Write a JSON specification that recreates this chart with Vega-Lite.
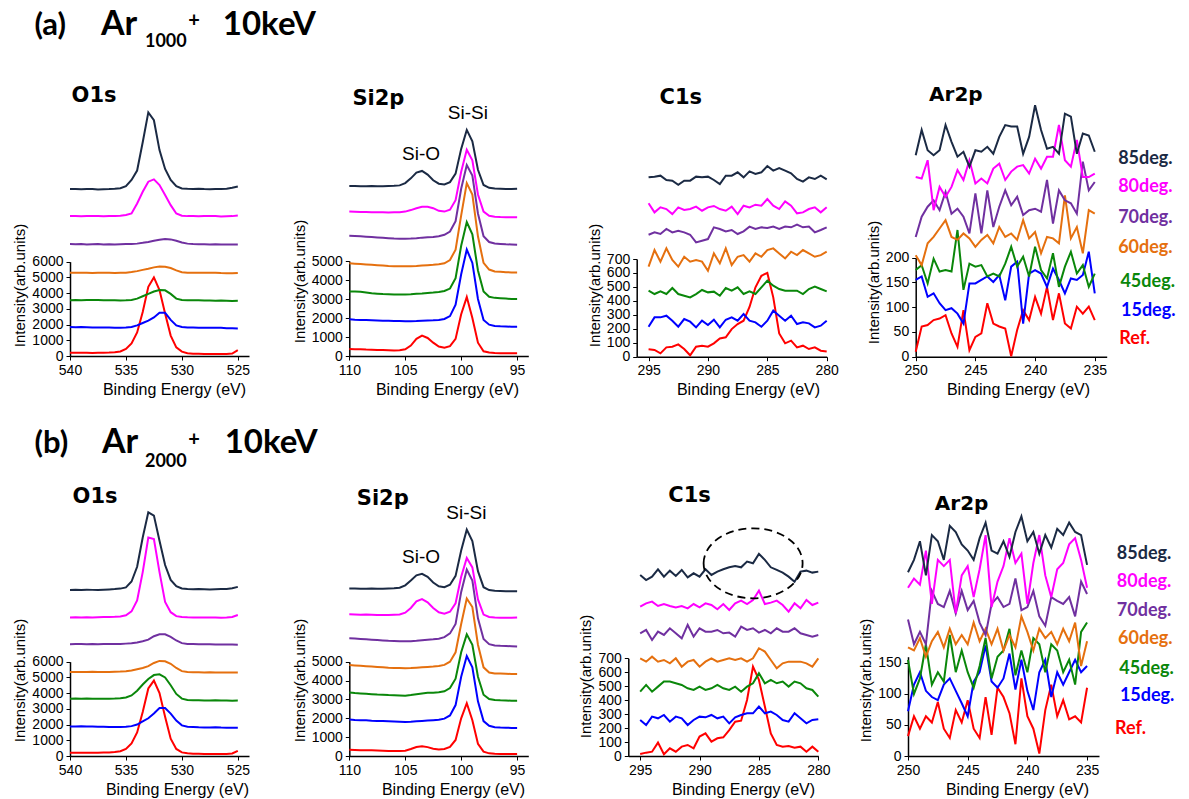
{
"$schema":"https://vega.github.io/schema/vega-lite/v6.json",
"width":1189,"height":799,"padding":0,"autosize":{"type":"none"},"background":"white",
"config":{"view":{"stroke":null},
"axis":{"grid":false,"format":"d","domainColor":"#000","tickColor":"#000","labelColor":"#000","titleColor":"#000","labelFont":"Liberation Sans","titleFont":"Liberation Sans","labelFontSize":14,"titleFontSize":16,"titleFontWeight":"normal","tickSize":4,"domainWidth":1.5,"labelPadding":3,"labelFlush":false,"labelOverlap":false},
"text":{"font":"Lato","fontWeight":"bold","align":"left","baseline":"alphabetic","color":"#000"},
"line":{"strokeWidth":2}},
"datasets":{"spec":[
{"p":"aO","x":540,"r":210,"b":1850,"g":3550,"o":5300,"u":7120,"m":8900,"n":10620},
{"p":"aO","x":539.5,"r":200,"b":1830,"g":3560,"o":5290,"u":7110,"m":8910,"n":10630},
{"p":"aO","x":539,"r":210,"b":1840,"g":3550,"o":5290,"u":7120,"m":8890,"n":10610},
{"p":"aO","x":538.5,"r":200,"b":1830,"g":3570,"o":5300,"u":7100,"m":8900,"n":10630},
{"p":"aO","x":538,"r":190,"b":1820,"g":3560,"o":5280,"u":7110,"m":8910,"n":10620},
{"p":"aO","x":537.5,"r":200,"b":1810,"g":3570,"o":5290,"u":7120,"m":8900,"n":10600},
{"p":"aO","x":537,"r":210,"b":1820,"g":3550,"o":5300,"u":7100,"m":8890,"n":10610},
{"p":"aO","x":536.5,"r":220,"b":1810,"g":3540,"o":5290,"u":7110,"m":8900,"n":10620},
{"p":"aO","x":536,"r":240,"b":1800,"g":3540,"o":5280,"u":7100,"m":8910,"n":10640},
{"p":"aO","x":535.5,"r":290,"b":1800,"g":3530,"o":5290,"u":7110,"m":8920,"n":10680},
{"p":"aO","x":535,"r":450,"b":1810,"g":3540,"o":5300,"u":7120,"m":8970,"n":10800},
{"p":"aO","x":534.5,"r":800,"b":1850,"g":3570,"o":5340,"u":7130,"m":9070,"n":11200},
{"p":"aO","x":534,"r":1500,"b":1950,"g":3650,"o":5400,"u":7150,"m":9700,"n":11800},
{"p":"aO","x":533.5,"r":2800,"b":2100,"g":3800,"o":5480,"u":7200,"m":10450,"n":13600},
{"p":"aO","x":533,"r":4400,"b":2250,"g":3950,"o":5550,"u":7260,"m":11090,"n":15500},
{"p":"aO","x":532.5,"r":5000,"b":2450,"g":4100,"o":5640,"u":7330,"m":11240,"n":15000},
{"p":"aO","x":532,"r":4200,"b":2750,"g":4200,"o":5700,"u":7400,"m":10880,"n":13100},
{"p":"aO","x":531.5,"r":2700,"b":2750,"g":4180,"o":5680,"u":7450,"m":10240,"n":11900},
{"p":"aO","x":531,"r":1300,"b":2300,"g":3950,"o":5600,"u":7420,"m":9600,"n":11200},
{"p":"aO","x":530.5,"r":550,"b":1950,"g":3650,"o":5450,"u":7330,"m":9070,"n":10800},
{"p":"aO","x":530,"r":280,"b":1850,"g":3560,"o":5330,"u":7220,"m":8930,"n":10660},
{"p":"aO","x":529.5,"r":180,"b":1820,"g":3540,"o":5300,"u":7150,"m":8900,"n":10640},
{"p":"aO","x":529,"r":150,"b":1820,"g":3540,"o":5290,"u":7120,"m":8900,"n":10630},
{"p":"aO","x":528.5,"r":140,"b":1800,"g":3550,"o":5300,"u":7110,"m":8890,"n":10640},
{"p":"aO","x":528,"r":130,"b":1790,"g":3530,"o":5290,"u":7110,"m":8900,"n":10620},
{"p":"aO","x":527.5,"r":130,"b":1800,"g":3530,"o":5290,"u":7100,"m":8910,"n":10610},
{"p":"aO","x":527,"r":120,"b":1790,"g":3520,"o":5300,"u":7110,"m":8900,"n":10620},
{"p":"aO","x":526.5,"r":130,"b":1800,"g":3530,"o":5280,"u":7100,"m":8880,"n":10620},
{"p":"aO","x":526,"r":120,"b":1770,"g":3520,"o":5270,"u":7100,"m":8890,"n":10640},
{"p":"aO","x":525.5,"r":160,"b":1760,"g":3500,"o":5260,"u":7090,"m":8900,"n":10700},
{"p":"aO","x":525,"r":380,"b":1750,"g":3520,"o":5280,"u":7090,"m":8940,"n":10780},
{"p":"bO","x":540,"r":200,"b":1880,"g":3650,"o":5340,"u":7110,"m":8820,"n":10560},
{"p":"bO","x":539.5,"r":210,"b":1870,"g":3660,"o":5350,"u":7120,"m":8830,"n":10570},
{"p":"bO","x":539,"r":200,"b":1900,"g":3650,"o":5340,"u":7120,"m":8820,"n":10560},
{"p":"bO","x":538.5,"r":210,"b":1880,"g":3660,"o":5350,"u":7110,"m":8830,"n":10580},
{"p":"bO","x":538,"r":200,"b":1870,"g":3650,"o":5360,"u":7120,"m":8820,"n":10570},
{"p":"bO","x":537.5,"r":210,"b":1860,"g":3640,"o":5350,"u":7110,"m":8830,"n":10560},
{"p":"bO","x":537,"r":220,"b":1860,"g":3650,"o":5340,"u":7120,"m":8840,"n":10580},
{"p":"bO","x":536.5,"r":230,"b":1850,"g":3650,"o":5350,"u":7130,"m":8850,"n":10600},
{"p":"bO","x":536,"r":250,"b":1850,"g":3660,"o":5360,"u":7120,"m":8860,"n":10620},
{"p":"bO","x":535.5,"r":300,"b":1850,"g":3680,"o":5370,"u":7130,"m":8880,"n":10650},
{"p":"bO","x":535,"r":450,"b":1860,"g":3720,"o":5400,"u":7150,"m":8950,"n":10730},
{"p":"bO","x":534.5,"r":800,"b":1900,"g":3850,"o":5440,"u":7170,"m":9200,"n":11100},
{"p":"bO","x":534,"r":1500,"b":2000,"g":4150,"o":5520,"u":7220,"m":9900,"n":12040},
{"p":"bO","x":533.5,"r":2800,"b":2200,"g":4550,"o":5600,"u":7300,"m":11700,"n":13900},
{"p":"bO","x":533,"r":4300,"b":2400,"g":4900,"o":5720,"u":7400,"m":13900,"n":15500},
{"p":"bO","x":532.5,"r":4800,"b":2700,"g":5150,"o":5920,"u":7620,"m":13800,"n":15300},
{"p":"bO","x":532,"r":4000,"b":3050,"g":5200,"o":6050,"u":7750,"m":11700,"n":13700},
{"p":"bO","x":531.5,"r":2500,"b":3050,"g":5000,"o":6030,"u":7740,"m":9800,"n":12150},
{"p":"bO","x":531,"r":1100,"b":2700,"g":4500,"o":5870,"u":7580,"m":9150,"n":11200},
{"p":"bO","x":530.5,"r":450,"b":2250,"g":3950,"o":5600,"u":7350,"m":8900,"n":10810},
{"p":"bO","x":530,"r":230,"b":1950,"g":3650,"o":5400,"u":7180,"m":8850,"n":10660},
{"p":"bO","x":529.5,"r":170,"b":1860,"g":3560,"o":5340,"u":7130,"m":8830,"n":10620},
{"p":"bO","x":529,"r":150,"b":1850,"g":3540,"o":5330,"u":7120,"m":8820,"n":10610},
{"p":"bO","x":528.5,"r":140,"b":1830,"g":3540,"o":5330,"u":7110,"m":8820,"n":10620},
{"p":"bO","x":528,"r":130,"b":1820,"g":3530,"o":5320,"u":7110,"m":8810,"n":10610},
{"p":"bO","x":527.5,"r":130,"b":1820,"g":3530,"o":5330,"u":7110,"m":8820,"n":10600},
{"p":"bO","x":527,"r":120,"b":1830,"g":3540,"o":5320,"u":7100,"m":8810,"n":10610},
{"p":"bO","x":526.5,"r":130,"b":1810,"g":3530,"o":5320,"u":7100,"m":8800,"n":10620},
{"p":"bO","x":526,"r":120,"b":1800,"g":3530,"o":5310,"u":7100,"m":8820,"n":10630},
{"p":"bO","x":525.5,"r":160,"b":1790,"g":3520,"o":5310,"u":7090,"m":8850,"n":10680},
{"p":"bO","x":525,"r":330,"b":1790,"g":3530,"o":5310,"u":7080,"m":8970,"n":10760},
{"p":"aS","x":110,"r":370,"b":1930,"g":3400,"o":4880,"u":6330,"m":7600,"n":8950},
{"p":"aS","x":109.5,"r":360,"b":1910,"g":3390,"o":4860,"u":6320,"m":7590,"n":8950},
{"p":"aS","x":109,"r":360,"b":1900,"g":3380,"o":4840,"u":6300,"m":7580,"n":8940},
{"p":"aS","x":108.5,"r":340,"b":1890,"g":3340,"o":4820,"u":6280,"m":7580,"n":8940},
{"p":"aS","x":108,"r":330,"b":1880,"g":3300,"o":4800,"u":6260,"m":7570,"n":8950},
{"p":"aS","x":107.5,"r":320,"b":1870,"g":3280,"o":4780,"u":6240,"m":7560,"n":8940},
{"p":"aS","x":107,"r":310,"b":1860,"g":3260,"o":4760,"u":6220,"m":7560,"n":8940},
{"p":"aS","x":106.5,"r":300,"b":1850,"g":3250,"o":4740,"u":6200,"m":7550,"n":8950},
{"p":"aS","x":106,"r":290,"b":1840,"g":3240,"o":4730,"u":6180,"m":7560,"n":8960},
{"p":"aS","x":105.5,"r":300,"b":1840,"g":3240,"o":4720,"u":6170,"m":7570,"n":8980},
{"p":"aS","x":105,"r":350,"b":1830,"g":3240,"o":4720,"u":6170,"m":7600,"n":9100},
{"p":"aS","x":104.5,"r":550,"b":1830,"g":3250,"o":4730,"u":6180,"m":7680,"n":9350},
{"p":"aS","x":104,"r":900,"b":1840,"g":3270,"o":4740,"u":6200,"m":7780,"n":9650},
{"p":"aS","x":103.5,"r":1070,"b":1860,"g":3290,"o":4760,"u":6230,"m":7850,"n":9740},
{"p":"aS","x":103,"r":950,"b":1870,"g":3320,"o":4780,"u":6250,"m":7860,"n":9550},
{"p":"aS","x":102.5,"r":700,"b":1880,"g":3340,"o":4800,"u":6260,"m":7780,"n":9250},
{"p":"aS","x":102,"r":500,"b":1900,"g":3370,"o":4830,"u":6300,"m":7640,"n":9070},
{"p":"aS","x":101.5,"r":440,"b":1950,"g":3420,"o":4880,"u":6380,"m":7600,"n":9030},
{"p":"aS","x":101,"r":520,"b":2100,"g":3550,"o":5050,"u":6550,"m":7700,"n":9150},
{"p":"aS","x":100.5,"r":900,"b":2700,"g":4100,"o":5600,"u":7100,"m":8200,"n":9600},
{"p":"aS","x":100,"r":2200,"b":4300,"g":5800,"o":7400,"u":8800,"m":9700,"n":10900},
{"p":"aS","x":99.5,"r":3100,"b":5600,"g":7050,"o":9100,"u":10050,"m":10850,"n":11900},
{"p":"aS","x":99,"r":2000,"b":4900,"g":6400,"o":8500,"u":9500,"m":10300,"n":11300},
{"p":"aS","x":98.5,"r":700,"b":3000,"g":4500,"o":6300,"u":7500,"m":8500,"n":9800},
{"p":"aS","x":98,"r":250,"b":1900,"g":3400,"o":4900,"u":6300,"m":7600,"n":9000},
{"p":"aS","x":97.5,"r":180,"b":1650,"g":3120,"o":4550,"u":6000,"m":7380,"n":8850},
{"p":"aS","x":97,"r":160,"b":1580,"g":3060,"o":4450,"u":5920,"m":7330,"n":8810},
{"p":"aS","x":96.5,"r":150,"b":1560,"g":3040,"o":4430,"u":5900,"m":7310,"n":8800},
{"p":"aS","x":96,"r":140,"b":1550,"g":3020,"o":4410,"u":5880,"m":7300,"n":8790},
{"p":"aS","x":95.5,"r":140,"b":1540,"g":3000,"o":4400,"u":5870,"m":7300,"n":8790},
{"p":"aS","x":95,"r":150,"b":1540,"g":3000,"o":4400,"u":5860,"m":7300,"n":8800},
{"p":"bS","x":110,"r":330,"b":1930,"g":3370,"o":4820,"u":6240,"m":7510,"n":8880},
{"p":"bS","x":109.5,"r":320,"b":1910,"g":3340,"o":4800,"u":6230,"m":7500,"n":8880},
{"p":"bS","x":109,"r":310,"b":1900,"g":3320,"o":4780,"u":6210,"m":7490,"n":8870},
{"p":"bS","x":108.5,"r":310,"b":1890,"g":3300,"o":4760,"u":6190,"m":7500,"n":8870},
{"p":"bS","x":108,"r":300,"b":1870,"g":3280,"o":4740,"u":6170,"m":7490,"n":8880},
{"p":"bS","x":107.5,"r":290,"b":1860,"g":3260,"o":4720,"u":6150,"m":7480,"n":8870},
{"p":"bS","x":107,"r":280,"b":1850,"g":3250,"o":4700,"u":6130,"m":7480,"n":8870},
{"p":"bS","x":106.5,"r":270,"b":1840,"g":3230,"o":4680,"u":6110,"m":7480,"n":8880},
{"p":"bS","x":106,"r":260,"b":1830,"g":3220,"o":4670,"u":6100,"m":7490,"n":8890},
{"p":"bS","x":105.5,"r":260,"b":1820,"g":3210,"o":4660,"u":6090,"m":7500,"n":8920},
{"p":"bS","x":105,"r":280,"b":1800,"g":3200,"o":4650,"u":6080,"m":7600,"n":9050},
{"p":"bS","x":104.5,"r":370,"b":1810,"g":3230,"o":4660,"u":6090,"m":7850,"n":9300},
{"p":"bS","x":104,"r":480,"b":1840,"g":3280,"o":4680,"u":6110,"m":8200,"n":9580},
{"p":"bS","x":103.5,"r":520,"b":1860,"g":3320,"o":4700,"u":6140,"m":8320,"n":9660},
{"p":"bS","x":103,"r":470,"b":1880,"g":3350,"o":4720,"u":6170,"m":8150,"n":9500},
{"p":"bS","x":102.5,"r":390,"b":1900,"g":3360,"o":4740,"u":6190,"m":7850,"n":9200},
{"p":"bS","x":102,"r":350,"b":1920,"g":3380,"o":4770,"u":6220,"m":7620,"n":9000},
{"p":"bS","x":101.5,"r":370,"b":1980,"g":3430,"o":4830,"u":6300,"m":7540,"n":8950},
{"p":"bS","x":101,"r":480,"b":2150,"g":3600,"o":5000,"u":6500,"m":7650,"n":9080},
{"p":"bS","x":100.5,"r":850,"b":2700,"g":4100,"o":5500,"u":7000,"m":8100,"n":9550},
{"p":"bS","x":100,"r":2000,"b":4200,"g":5500,"o":7000,"u":8700,"m":9500,"n":10900},
{"p":"bS","x":99.5,"r":2800,"b":5300,"g":6450,"o":8350,"u":9880,"m":10500,"n":12000},
{"p":"bS","x":99,"r":1900,"b":4700,"g":5900,"o":7900,"u":9300,"m":10000,"n":11400},
{"p":"bS","x":98.5,"r":650,"b":2900,"g":4200,"o":5900,"u":7300,"m":8300,"n":9800},
{"p":"bS","x":98,"r":230,"b":1850,"g":3250,"o":4700,"u":6200,"m":7500,"n":8950},
{"p":"bS","x":97.5,"r":140,"b":1600,"g":3020,"o":4430,"u":5930,"m":7370,"n":8800},
{"p":"bS","x":97,"r":120,"b":1530,"g":2970,"o":4380,"u":5860,"m":7340,"n":8760},
{"p":"bS","x":96.5,"r":110,"b":1510,"g":2950,"o":4370,"u":5840,"m":7330,"n":8750},
{"p":"bS","x":96,"r":100,"b":1500,"g":2940,"o":4360,"u":5830,"m":7330,"n":8740},
{"p":"bS","x":95.5,"r":100,"b":1490,"g":2930,"o":4350,"u":5820,"m":7330,"n":8740},
{"p":"bS","x":95,"r":110,"b":1490,"g":2930,"o":4350,"u":5810,"m":7340,"n":8740},
{"p":"aC","x":295,"r":53,"b":215,"g":473,"o":645,"u":874,"m":1099,"n":1285},
{"p":"aC","x":294.5,"r":48,"b":282,"g":449,"o":764,"u":891,"m":1034,"n":1290},
{"p":"aC","x":294,"r":24,"b":282,"g":468,"o":681,"u":879,"m":1070,"n":1297},
{"p":"aC","x":293.5,"r":67,"b":294,"g":449,"o":776,"u":915,"m":1058,"n":1266},
{"p":"aC","x":293,"r":72,"b":258,"g":492,"o":693,"u":891,"m":1022,"n":1261},
{"p":"aC","x":292.5,"r":88,"b":215,"g":449,"o":645,"u":903,"m":1070,"n":1232},
{"p":"aC","x":292,"r":55,"b":270,"g":437,"o":716,"u":891,"m":1051,"n":1261},
{"p":"aC","x":291.5,"r":10,"b":251,"g":425,"o":681,"u":874,"m":1058,"n":1261},
{"p":"aC","x":291,"r":72,"b":210,"g":449,"o":693,"u":819,"m":1075,"n":1290},
{"p":"aC","x":290.5,"r":79,"b":258,"g":478,"o":681,"u":831,"m":1046,"n":1285},
{"p":"aC","x":290,"r":72,"b":227,"g":461,"o":616,"u":843,"m":1070,"n":1290},
{"p":"aC","x":289.5,"r":96,"b":265,"g":466,"o":740,"u":927,"m":1080,"n":1266},
{"p":"aC","x":289,"r":131,"b":210,"g":437,"o":669,"u":915,"m":1058,"n":1237},
{"p":"aC","x":288.5,"r":139,"b":265,"g":492,"o":776,"u":898,"m":1046,"n":1297},
{"p":"aC","x":288,"r":198,"b":282,"g":473,"o":657,"u":908,"m":1075,"n":1297},
{"p":"aC","x":287.5,"r":234,"b":258,"g":497,"o":716,"u":879,"m":1022,"n":1321},
{"p":"aC","x":287,"r":258,"b":306,"g":449,"o":728,"u":898,"m":1082,"n":1285},
{"p":"aC","x":286.5,"r":356,"b":258,"g":468,"o":681,"u":932,"m":1070,"n":1328},
{"p":"aC","x":286,"r":497,"b":246,"g":449,"o":740,"u":915,"m":1089,"n":1309},
{"p":"aC","x":285.5,"r":580,"b":215,"g":497,"o":716,"u":927,"m":1082,"n":1321},
{"p":"aC","x":285,"r":600,"b":258,"g":545,"o":764,"u":922,"m":1130,"n":1366},
{"p":"aC","x":284.5,"r":425,"b":330,"g":509,"o":776,"u":932,"m":1082,"n":1333},
{"p":"aC","x":284,"r":167,"b":294,"g":485,"o":740,"u":915,"m":1058,"n":1352},
{"p":"aC","x":283.5,"r":96,"b":258,"g":473,"o":704,"u":932,"m":1113,"n":1333},
{"p":"aC","x":283,"r":115,"b":294,"g":473,"o":752,"u":927,"m":1082,"n":1314},
{"p":"aC","x":282.5,"r":67,"b":234,"g":473,"o":728,"u":946,"m":1027,"n":1273},
{"p":"aC","x":282,"r":79,"b":246,"g":449,"o":764,"u":927,"m":1034,"n":1254},
{"p":"aC","x":281.5,"r":55,"b":239,"g":485,"o":740,"u":932,"m":1058,"n":1285},
{"p":"aC","x":281,"r":67,"b":210,"g":502,"o":716,"u":891,"m":1070,"n":1273},
{"p":"aC","x":280.5,"r":43,"b":222,"g":485,"o":728,"u":908,"m":1034,"n":1297},
{"p":"aC","x":280,"r":38,"b":258,"g":468,"o":752,"u":927,"m":1070,"n":1271},
{"p":"bC","x":295,"r":14,"b":258,"g":461,"o":700,"u":879,"m":1070,"n":1297},
{"p":"bC","x":294.5,"r":24,"b":222,"g":509,"o":676,"u":903,"m":1094,"n":1261},
{"p":"bC","x":294,"r":31,"b":282,"g":461,"o":712,"u":831,"m":1106,"n":1285},
{"p":"bC","x":293.5,"r":96,"b":270,"g":497,"o":676,"u":891,"m":1075,"n":1338},
{"p":"bC","x":293,"r":12,"b":294,"g":533,"o":688,"u":867,"m":1089,"n":1285},
{"p":"bC","x":292.5,"r":55,"b":246,"g":533,"o":664,"u":915,"m":1075,"n":1328},
{"p":"bC","x":292,"r":31,"b":282,"g":521,"o":700,"u":879,"m":1065,"n":1290},
{"p":"bC","x":291.5,"r":67,"b":270,"g":509,"o":640,"u":843,"m":1075,"n":1333},
{"p":"bC","x":291,"r":79,"b":222,"g":485,"o":676,"u":939,"m":1058,"n":1280},
{"p":"bC","x":290.5,"r":55,"b":258,"g":473,"o":688,"u":855,"m":1089,"n":1309},
{"p":"bC","x":290,"r":139,"b":282,"g":497,"o":640,"u":915,"m":1065,"n":1285},
{"p":"bC","x":289.5,"r":162,"b":277,"g":473,"o":676,"u":891,"m":1094,"n":1338},
{"p":"bC","x":289,"r":103,"b":294,"g":485,"o":700,"u":891,"m":1082,"n":1297},
{"p":"bC","x":288.5,"r":127,"b":270,"g":509,"o":676,"u":903,"m":1051,"n":1321},
{"p":"bC","x":288,"r":134,"b":282,"g":485,"o":688,"u":879,"m":1089,"n":1338},
{"p":"bC","x":287.5,"r":186,"b":234,"g":473,"o":700,"u":884,"m":1046,"n":1352},
{"p":"bC","x":287,"r":246,"b":277,"g":497,"o":688,"u":855,"m":1094,"n":1362},
{"p":"bC","x":286.5,"r":253,"b":294,"g":461,"o":700,"u":927,"m":1113,"n":1352},
{"p":"bC","x":286,"r":401,"b":306,"g":497,"o":676,"u":903,"m":1089,"n":1393},
{"p":"bC","x":285.5,"r":640,"b":306,"g":521,"o":700,"u":915,"m":1118,"n":1381},
{"p":"bC","x":285,"r":545,"b":354,"g":593,"o":772,"u":884,"m":1185,"n":1448},
{"p":"bC","x":284.5,"r":354,"b":306,"g":521,"o":748,"u":903,"m":1089,"n":1405},
{"p":"bC","x":284,"r":162,"b":318,"g":545,"o":688,"u":879,"m":1099,"n":1352},
{"p":"bC","x":283.5,"r":79,"b":294,"g":521,"o":628,"u":915,"m":1113,"n":1333},
{"p":"bC","x":283,"r":67,"b":258,"g":533,"o":664,"u":891,"m":1082,"n":1314},
{"p":"bC","x":282.5,"r":72,"b":246,"g":497,"o":676,"u":891,"m":1034,"n":1285},
{"p":"bC","x":282,"r":60,"b":306,"g":533,"o":676,"u":915,"m":1094,"n":1249},
{"p":"bC","x":281.5,"r":67,"b":270,"g":521,"o":676,"u":879,"m":1058,"n":1321},
{"p":"bC","x":281,"r":31,"b":234,"g":485,"o":664,"u":867,"m":1118,"n":1328},
{"p":"bC","x":280.5,"r":67,"b":258,"g":473,"o":640,"u":855,"m":1082,"n":1314},
{"p":"bC","x":280,"r":31,"b":263,"g":425,"o":700,"u":867,"m":1099,"n":1321},
{"p":"aA","x":250,"r":10,"b":155,"g":175,"o":205,"u":242,"m":363,"n":407},
{"p":"aA","x":249.5,"r":61,"b":162,"g":185,"o":185,"u":283,"m":360,"n":458},
{"p":"aA","x":249,"r":64,"b":121,"g":148,"o":229,"u":303,"m":397,"n":417},
{"p":"aA","x":248.5,"r":74,"b":128,"g":198,"o":242,"u":316,"m":296,"n":407},
{"p":"aA","x":248,"r":77,"b":108,"g":172,"o":259,"u":296,"m":343,"n":417},
{"p":"aA","x":247.5,"r":84,"b":94,"g":175,"o":276,"u":333,"m":323,"n":468},
{"p":"aA","x":247,"r":47,"b":98,"g":172,"o":242,"u":289,"m":343,"n":434},
{"p":"aA","x":246.5,"r":20,"b":87,"g":256,"o":236,"u":299,"m":377,"n":404},
{"p":"aA","x":246,"r":94,"b":67,"g":135,"o":249,"u":283,"m":357,"n":414},
{"p":"aA","x":245.5,"r":13,"b":148,"g":188,"o":239,"u":249,"m":397,"n":384},
{"p":"aA","x":245,"r":40,"b":148,"g":182,"o":222,"u":330,"m":350,"n":417},
{"p":"aA","x":244.5,"r":47,"b":155,"g":185,"o":236,"u":249,"m":360,"n":414},
{"p":"aA","x":244,"r":108,"b":162,"g":162,"o":246,"u":336,"m":350,"n":424},
{"p":"aA","x":243.5,"r":67,"b":151,"g":168,"o":229,"u":262,"m":380,"n":410},
{"p":"aA","x":243,"r":61,"b":165,"g":162,"o":262,"u":303,"m":390,"n":444},
{"p":"aA","x":242.5,"r":57,"b":114,"g":188,"o":242,"u":336,"m":357,"n":468},
{"p":"aA","x":242,"r":1,"b":182,"g":222,"o":249,"u":306,"m":374,"n":465},
{"p":"aA","x":241.5,"r":54,"b":192,"g":182,"o":236,"u":323,"m":384,"n":465},
{"p":"aA","x":241,"r":94,"b":67,"g":202,"o":276,"u":286,"m":387,"n":410},
{"p":"aA","x":240.5,"r":74,"b":168,"g":162,"o":239,"u":296,"m":370,"n":444},
{"p":"aA","x":240,"r":121,"b":175,"g":222,"o":252,"u":299,"m":400,"n":508},
{"p":"aA","x":239.5,"r":87,"b":168,"g":175,"o":209,"u":293,"m":380,"n":458},
{"p":"aA","x":239,"r":141,"b":141,"g":158,"o":242,"u":357,"m":404,"n":420},
{"p":"aA","x":238.5,"r":74,"b":178,"g":209,"o":239,"u":269,"m":404,"n":424},
{"p":"aA","x":238,"r":128,"b":155,"g":141,"o":229,"u":336,"m":468,"n":410},
{"p":"aA","x":237.5,"r":67,"b":128,"g":182,"o":326,"u":316,"m":397,"n":491},
{"p":"aA","x":237,"r":57,"b":158,"g":212,"o":239,"u":310,"m":384,"n":485},
{"p":"aA","x":236.5,"r":101,"b":155,"g":168,"o":262,"u":289,"m":438,"n":410},
{"p":"aA","x":236,"r":87,"b":165,"g":185,"o":209,"u":394,"m":363,"n":451},
{"p":"aA","x":235.5,"r":101,"b":212,"g":141,"o":296,"u":336,"m":363,"n":447},
{"p":"aA","x":235,"r":74,"b":128,"g":168,"o":289,"u":353,"m":370,"n":414},
{"p":"bA","x":250,"r":32,"b":72,"g":155,"o":175,"u":220,"m":271,"n":296},
{"p":"bA","x":249.5,"r":64,"b":115,"g":100,"o":170,"u":180,"m":286,"n":316},
{"p":"bA","x":249,"r":44,"b":135,"g":125,"o":190,"u":200,"m":276,"n":346},
{"p":"bA","x":248.5,"r":64,"b":105,"g":180,"o":160,"u":180,"m":331,"n":291},
{"p":"bA","x":248,"r":54,"b":95,"g":115,"o":185,"u":266,"m":245,"n":356},
{"p":"bA","x":247.5,"r":87,"b":90,"g":135,"o":200,"u":245,"m":316,"n":346},
{"p":"bA","x":247,"r":44,"b":115,"g":120,"o":175,"u":240,"m":306,"n":316},
{"p":"bA","x":246.5,"r":29,"b":125,"g":195,"o":205,"u":266,"m":316,"n":371},
{"p":"bA","x":246,"r":74,"b":105,"g":135,"o":180,"u":230,"m":230,"n":361},
{"p":"bA","x":245.5,"r":54,"b":85,"g":170,"o":195,"u":266,"m":291,"n":341},
{"p":"bA","x":245,"r":90,"b":64,"g":135,"o":180,"u":235,"m":306,"n":331},
{"p":"bA","x":244.5,"r":44,"b":120,"g":110,"o":215,"u":250,"m":256,"n":316},
{"p":"bA","x":244,"r":29,"b":135,"g":145,"o":185,"u":215,"m":301,"n":351},
{"p":"bA","x":243.5,"r":95,"b":178,"g":190,"o":205,"u":195,"m":356,"n":376},
{"p":"bA","x":243,"r":34,"b":120,"g":125,"o":180,"u":245,"m":240,"n":331},
{"p":"bA","x":242.5,"r":110,"b":110,"g":160,"o":205,"u":256,"m":281,"n":326},
{"p":"bA","x":242,"r":95,"b":125,"g":170,"o":170,"u":240,"m":306,"n":346},
{"p":"bA","x":241.5,"r":69,"b":165,"g":205,"o":195,"u":245,"m":351,"n":321},
{"p":"bA","x":241,"r":19,"b":107,"g":130,"o":175,"u":286,"m":311,"n":361},
{"p":"bA","x":240.5,"r":125,"b":155,"g":170,"o":225,"u":235,"m":326,"n":386},
{"p":"bA","x":240,"r":64,"b":105,"g":135,"o":200,"u":240,"m":245,"n":346},
{"p":"bA","x":239.5,"r":44,"b":74,"g":190,"o":170,"u":266,"m":311,"n":361},
{"p":"bA","x":239,"r":4,"b":135,"g":180,"o":205,"u":225,"m":356,"n":326},
{"p":"bA","x":238.5,"r":74,"b":155,"g":135,"o":190,"u":210,"m":291,"n":356},
{"p":"bA","x":238,"r":115,"b":95,"g":180,"o":200,"u":256,"m":256,"n":336},
{"p":"bA","x":237.5,"r":64,"b":135,"g":170,"o":180,"u":250,"m":301,"n":366},
{"p":"bA","x":237,"r":90,"b":115,"g":135,"o":205,"u":245,"m":311,"n":356},
{"p":"bA","x":236.5,"r":59,"b":135,"g":155,"o":185,"u":256,"m":341,"n":376},
{"p":"bA","x":236,"r":64,"b":155,"g":115,"o":215,"u":225,"m":351,"n":361},
{"p":"bA","x":235.5,"r":54,"b":135,"g":200,"o":145,"u":281,"m":316,"n":356},
{"p":"bA","x":235,"r":110,"b":145,"g":215,"o":185,"u":261,"m":271,"n":308}
]},
"resolve":{"scale":{"x":"independent","y":"independent"}},
"layer":[
{"layer":[
 {"data":{"name":"spec"},"transform":[{"filter":"datum.p=='aO'"},{"fold":["r","b","g","o","u","m","n"],"as":["s","v"]}],"mark":"line",
  "encoding":{"x":{"field":"x","type":"quantitative","scale":{"domain":[540,525],"range":[70,249]},"axis":{"orient":"bottom","offset":-443,"values":[540,535,530,525],"title":"Binding Energy (eV)","titleX":174}},
   "y":{"field":"v","type":"quantitative","scale":{"domain":[0,6000],"range":[356,261.7]},"axis":{"orient":"left","offset":-70,"values":[0,1000,2000,3000,4000,5000,6000],"title":"Intensity(arb.units)","titleY":285,"titleFontSize":15}},
   "color":{"field":"s","type":"nominal","scale":{"domain":["r","b","g","o","u","m","n"],"range":["#FF0000","#0000FF","#0A870A","#E5700F","#7030A0","#FF00FF","#1B2A44"]},"legend":null}}},
 {"data":{"values":[{}]},"mark":{"type":"text","text":"O1s","font":"DejaVu Sans","fontSize":21},"encoding":{"x":{"datum":539.86},"y":{"datum":16181}}},
 {"data":{"values":[{}]},"mark":{"type":"text","text":"(a)","fontSize":31},"encoding":{"x":{"datum":543.18},"y":{"datum":20425}}},
 {"data":{"values":[{}]},"mark":{"type":"text","text":"Ar","fontSize":34},"encoding":{"x":{"datum":537.23},"y":{"datum":20425}}},
 {"data":{"values":[{}]},"mark":{"type":"text","text":"1000","fontSize":18},"encoding":{"x":{"datum":533.3},"y":{"datum":19681}}},
 {"data":{"values":[{}]},"mark":{"type":"text","text":"+","fontSize":20},"encoding":{"x":{"datum":529.44},"y":{"datum":20909}}},
 {"data":{"values":[{}]},"mark":{"type":"text","text":"10keV","fontSize":33},"encoding":{"x":{"datum":526.34},"y":{"datum":20425}}}
]},
{"layer":[
 {"data":{"name":"spec"},"transform":[{"filter":"datum.p=='aS'"},{"fold":["r","b","g","o","u","m","n"],"as":["s","v"]}],"mark":"line",
  "encoding":{"x":{"field":"x","type":"quantitative","scale":{"domain":[110,95],"range":[349.3,528.3]},"axis":{"orient":"bottom","offset":-443,"values":[110,105,100,95],"title":"Binding Energy (eV)","titleX":447}},
   "y":{"field":"v","type":"quantitative","scale":{"domain":[0,5000],"range":[356,261]},"axis":{"orient":"left","offset":-349.3,"values":[0,1000,2000,3000,4000,5000],"title":"Intensity(arb.units)","titleY":281,"titleFontSize":15}},
   "color":{"field":"s","type":"nominal","legend":null}}},
 {"data":{"values":[{}]},"mark":{"type":"text","text":"Si2p","font":"DejaVu Sans","fontSize":21},"encoding":{"x":{"datum":109.72},"y":{"datum":13210}}},
 {"data":{"values":[{}]},"mark":{"type":"text","text":"Si-Si","font":"Liberation Sans","fontWeight":"normal","fontSize":19,"align":"center"},"encoding":{"x":{"datum":99.4},"y":{"datum":12458}}},
 {"data":{"values":[{}]},"mark":{"type":"text","text":"Si-O","font":"Liberation Sans","fontWeight":"normal","fontSize":19,"align":"center"},"encoding":{"x":{"datum":103.59},"y":{"datum":10316}}}
]},
{"layer":[
 {"data":{"name":"spec"},"transform":[{"filter":"datum.p=='aC'"},{"fold":["r","b","g","o","u","m","n"],"as":["s","v"]}],"mark":"line",
  "encoding":{"x":{"field":"x","type":"quantitative","scale":{"domain":[295,280],"range":[636.7,826.7]},"axis":{"orient":"bottom","offset":-442.3,"values":[295,290,285,280],"title":"Binding Energy (eV)","titleX":748}},
   "y":{"field":"v","type":"quantitative","scale":{"domain":[0,700],"range":[356.7,259]},"axis":{"orient":"left","offset":-636.7,"values":[0,100,200,300,400,500,600,700],"title":"Intensity(arb.units)","titleY":285,"titleFontSize":15}},
   "color":{"field":"s","type":"nominal","legend":null}}},
 {"data":{"values":[{}]},"mark":{"type":"text","text":"C1s","font":"DejaVu Sans","fontSize":21},"encoding":{"x":{"datum":294.08},"y":{"datum":1810.6}}}
]},
{"layer":[
 {"data":{"name":"spec"},"transform":[{"filter":"datum.p=='aA'"},{"fold":["r","b","g","o","u","m","n"],"as":["s","v"]}],"mark":"line",
  "encoding":{"x":{"field":"x","type":"quantitative","scale":{"domain":[250,235],"range":[915.7,1106.7]},"axis":{"orient":"bottom","offset":-442.3,"values":[250,245,240,235],"title":"Binding Energy (eV)","titleX":1018}},
   "y":{"field":"v","type":"quantitative","scale":{"domain":[0,200],"range":[356.7,257.7]},"axis":{"orient":"left","offset":-915.7,"values":[0,50,100,150,200],"title":"Intensity(arb.units)","titleY":282,"titleFontSize":15}},
   "color":{"field":"s","type":"nominal","legend":null}}},
 {"data":{"values":[{}]},"mark":{"type":"text","text":"Ar2p","font":"DejaVu Sans","fontSize":20},"encoding":{"x":{"datum":248.88},"y":{"datum":517.2}}},
 {"data":{"values":[{}]},"mark":{"type":"text","text":"85deg.","fontSize":18,"baseline":"middle","color":"#1B2A44"},"encoding":{"x":{"datum":233.04},"y":{"datum":399.4}}},
 {"data":{"values":[{}]},"mark":{"type":"text","text":"80deg.","fontSize":18,"baseline":"middle","color":"#FF00FF"},"encoding":{"x":{"datum":233.04},"y":{"datum":342.8}}},
 {"data":{"values":[{}]},"mark":{"type":"text","text":"70deg.","fontSize":18,"baseline":"middle","color":"#7030A0"},"encoding":{"x":{"datum":233.04},"y":{"datum":281.2}}},
 {"data":{"values":[{}]},"mark":{"type":"text","text":"60deg.","fontSize":18,"baseline":"middle","color":"#E5700F"},"encoding":{"x":{"datum":233.04},"y":{"datum":220.6}}},
 {"data":{"values":[{}]},"mark":{"type":"text","text":"45deg.","fontSize":18,"baseline":"middle","color":"#0A870A"},"encoding":{"x":{"datum":232.85},"y":{"datum":149.9}}},
 {"data":{"values":[{}]},"mark":{"type":"text","text":"15deg.","fontSize":18,"baseline":"middle","color":"#0000FF"},"encoding":{"x":{"datum":232.8},"y":{"datum":92.3}}},
 {"data":{"values":[{}]},"mark":{"type":"text","text":"Ref.","fontSize":18,"baseline":"middle","color":"#FF0000"},"encoding":{"x":{"datum":232.95},"y":{"datum":35.8}}}
]},
{"layer":[
 {"data":{"name":"spec"},"transform":[{"filter":"datum.p=='bO'"},{"fold":["r","b","g","o","u","m","n"],"as":["s","v"]}],"mark":"line",
  "encoding":{"x":{"field":"x","type":"quantitative","scale":{"domain":[540,525],"range":[70,249]},"axis":{"orient":"bottom","offset":-43,"values":[540,535,530,525],"title":"Binding Energy (eV)","titleX":177}},
   "y":{"field":"v","type":"quantitative","scale":{"domain":[0,6000],"range":[756,661.7]},"axis":{"orient":"left","offset":-70,"values":[0,1000,2000,3000,4000,5000,6000],"title":"Intensity(arb.units)","titleY":680,"titleFontSize":15}},
   "color":{"field":"s","type":"nominal","legend":null}}},
 {"data":{"values":[{}]},"mark":{"type":"text","text":"O1s","font":"DejaVu Sans","fontSize":21},"encoding":{"x":{"datum":539.77},"y":{"datum":16098}}},
 {"data":{"values":[{}]},"mark":{"type":"text","text":"(b)","fontSize":31},"encoding":{"x":{"datum":543.18},"y":{"datum":19261}}},
 {"data":{"values":[{}]},"mark":{"type":"text","text":"Ar","fontSize":34},"encoding":{"x":{"datum":537.15},"y":{"datum":19261}}},
 {"data":{"values":[{}]},"mark":{"type":"text","text":"2000","fontSize":18},"encoding":{"x":{"datum":533.3},"y":{"datum":18408}}},
 {"data":{"values":[{}]},"mark":{"type":"text","text":"+","fontSize":20},"encoding":{"x":{"datum":529.44},"y":{"datum":19751}}},
 {"data":{"values":[{}]},"mark":{"type":"text","text":"10keV","fontSize":33},"encoding":{"x":{"datum":526.17},"y":{"datum":19261}}}
]},
{"layer":[
 {"data":{"name":"spec"},"transform":[{"filter":"datum.p=='bS'"},{"fold":["r","b","g","o","u","m","n"],"as":["s","v"]}],"mark":"line",
  "encoding":{"x":{"field":"x","type":"quantitative","scale":{"domain":[110,95],"range":[349.3,528.3]},"axis":{"orient":"bottom","offset":-43,"values":[110,105,100,95],"title":"Binding Energy (eV)","titleX":453}},
   "y":{"field":"v","type":"quantitative","scale":{"domain":[0,5000],"range":[756,661.7]},"axis":{"orient":"left","offset":-349.3,"values":[0,1000,2000,3000,4000,5000],"title":"Intensity(arb.units)","titleY":680,"titleFontSize":15}},
   "color":{"field":"s","type":"nominal","legend":null}}},
 {"data":{"values":[{}]},"mark":{"type":"text","text":"Si2p","font":"DejaVu Sans","fontSize":21},"encoding":{"x":{"datum":109.33},"y":{"datum":13308}}},
 {"data":{"values":[{}]},"mark":{"type":"text","text":"Si-Si","font":"Liberation Sans","fontWeight":"normal","fontSize":19,"align":"center"},"encoding":{"x":{"datum":99.53},"y":{"datum":12550}}},
 {"data":{"values":[{}]},"mark":{"type":"text","text":"Si-O","font":"Liberation Sans","fontWeight":"normal","fontSize":19,"align":"center"},"encoding":{"x":{"datum":103.59},"y":{"datum":10217}}}
]},
{"layer":[
 {"data":{"name":"spec"},"transform":[{"filter":"datum.p=='bC'"},{"fold":["r","b","g","o","u","m","n"],"as":["s","v"]}],"mark":"line",
  "encoding":{"x":{"field":"x","type":"quantitative","scale":{"domain":[295,280],"range":[628.3,818.3]},"axis":{"orient":"bottom","offset":-43,"values":[295,290,285,280],"title":"Binding Energy (eV)","titleX":743}},
   "y":{"field":"v","type":"quantitative","scale":{"domain":[0,700],"range":[756,658.3]},"axis":{"orient":"left","offset":-628.3,"values":[0,100,200,300,400,500,600,700],"title":"Intensity(arb.units)","titleY":676,"titleFontSize":15}},
   "color":{"field":"s","type":"nominal","legend":null}}},
 {"data":{"values":[{}]},"mark":{"type":"text","text":"C1s","font":"DejaVu Sans","fontSize":21},"encoding":{"x":{"datum":292.63},"y":{"datum":1822}}},
 {"data":{"values":[{}]},"mark":{"type":"point","shape":"M -1 0 A 1 0.707 0 1 1 1 0 A 1 0.707 0 1 1 -1 0 Z","size":9801,"filled":false,"stroke":"#000","strokeWidth":1.8,"strokeDash":[8,5],"opacity":1},"encoding":{"x":{"datum":285.49},"y":{"datum":1380.7}}}
]},
{"layer":[
 {"data":{"name":"spec"},"transform":[{"filter":"datum.p=='bA'"},{"fold":["r","b","g","o","u","m","n"],"as":["s","v"]}],"mark":"line",
  "encoding":{"x":{"field":"x","type":"quantitative","scale":{"domain":[250,235],"range":[908,1099]},"axis":{"orient":"bottom","offset":-43,"values":[250,245,240,235],"title":"Binding Energy (eV)","titleX":1017}},
   "y":{"field":"v","type":"quantitative","scale":{"domain":[0,150],"range":[756,656.7]},"axis":{"orient":"left","offset":-908,"values":[0,50,100,150],"title":"Intensity(arb.units)","titleY":680,"titleFontSize":15}},
   "color":{"field":"s","type":"nominal","legend":null}}},
 {"data":{"values":[{}]},"mark":{"type":"text","text":"Ar2p","font":"DejaVu Sans","fontSize":20},"encoding":{"x":{"datum":247.75},"y":{"datum":396.8}}},
 {"data":{"values":[{}]},"mark":{"type":"text","text":"85deg.","fontSize":18,"baseline":"middle","color":"#1B2A44"},"encoding":{"x":{"datum":232.51},"y":{"datum":325.2}}},
 {"data":{"values":[{}]},"mark":{"type":"text","text":"80deg.","fontSize":18,"baseline":"middle","color":"#FF00FF"},"encoding":{"x":{"datum":232.51},"y":{"datum":281}}},
 {"data":{"values":[{}]},"mark":{"type":"text","text":"70deg.","fontSize":18,"baseline":"middle","color":"#7030A0"},"encoding":{"x":{"datum":232.51},"y":{"datum":233.1}}},
 {"data":{"values":[{}]},"mark":{"type":"text","text":"60deg.","fontSize":18,"baseline":"middle","color":"#E5700F"},"encoding":{"x":{"datum":232.4},"y":{"datum":187.8}}},
 {"data":{"values":[{}]},"mark":{"type":"text","text":"45deg.","fontSize":18,"baseline":"middle","color":"#0A870A"},"encoding":{"x":{"datum":232.3},"y":{"datum":140.9}}},
 {"data":{"values":[{}]},"mark":{"type":"text","text":"15deg.","fontSize":18,"baseline":"middle","color":"#0000FF"},"encoding":{"x":{"datum":232.25},"y":{"datum":97.1}}},
 {"data":{"values":[{}]},"mark":{"type":"text","text":"Ref.","fontSize":18,"baseline":"middle","color":"#FF0000"},"encoding":{"x":{"datum":232.65},"y":{"datum":44.3}}}
]}
]}
